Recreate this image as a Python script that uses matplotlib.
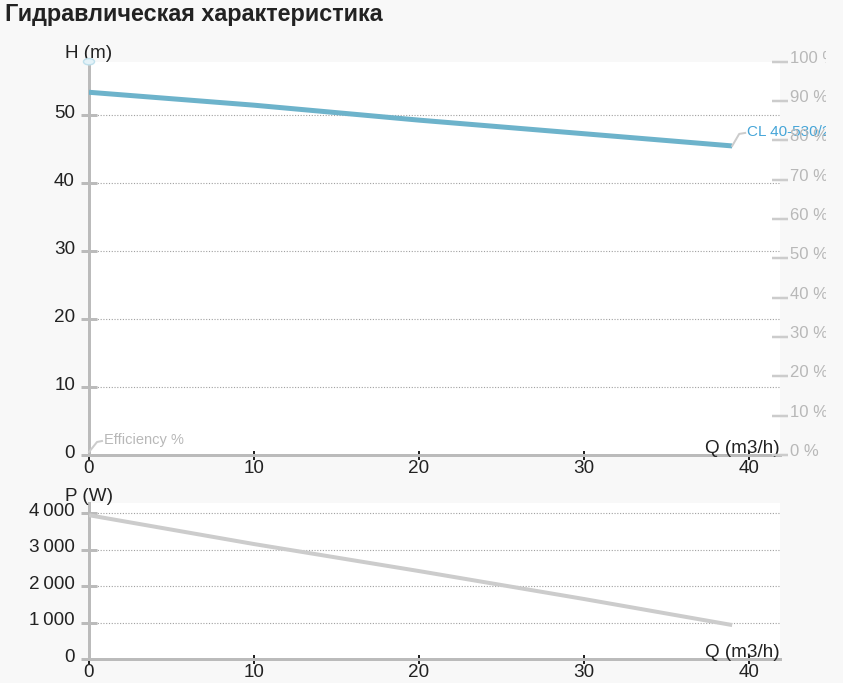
import matplotlib
matplotlib.use("Agg")
import matplotlib.pyplot as plt
from matplotlib.patches import Rectangle, Circle
from matplotlib.lines import Line2D
from matplotlib.transforms import Affine2D, ScaledTranslation

plt.rcParams['font.family'] = ['Liberation Sans', 'DejaVu Sans']

# ---------------- data ----------------
title = "Гидравлическая характеристика"
series_name = "CL 40-530/2"
flow = [0, 10, 20, 30, 39]                  # Q (m3/h)
head = [53.4, 51.5, 49.3, 47.3, 45.5]       # H (m)
power = [3940, 3150, 2410, 1645, 930]       # P (W)
x_ticks = [0, 10, 20, 30, 40]
h_ticks = [0, 10, 20, 30, 40, 50]
eff_ticks = [0, 10, 20, 30, 40, 50, 60, 70, 80, 90, 100]
p_ticks = [0, 1000, 2000, 3000, 4000]
x_max = 41.9
h_max = 57.9
p_max = 4266
eff_max = 100

# ---------------- style ----------------
W, H = 843, 683
DPI = 100
BG = "#f8f8f8"
AXIS = "#bbbbbb"
GRID = "#a0a0a0"
TXT = "#222222"
HEAD_C = "#6db3cb"
POW_C = "#cccccc"
LBL_C = "#45a5d8"
EFF_TXT = "#b8b8b8"
FS = 13.6
PX = 72.0 / DPI  # points per pixel

fig = plt.figure(figsize=(W / DPI, H / DPI), dpi=DPI, facecolor=BG)


def rect(left, top, right, bottom):
    return [left / W, 1 - bottom / H, (right - left) / W, (bottom - top) / H]


def style_axes(ax, yticks, ylim, yfmt):
    ax.set_facecolor("white")
    ax.set_xlim(0, x_max)
    ax.set_ylim(0, ylim)
    ax.set_xticks(x_ticks)
    ax.set_yticks(yticks)
    ax.set_yticklabels([yfmt(v) for v in yticks])
    for s in ("top", "right"):
        ax.spines[s].set_visible(False)
    for s in ("left", "bottom"):
        ax.spines[s].set_color(AXIS)
        ax.spines[s].set_linewidth(3 * PX)
    ax.grid(True, color=GRID, linestyle=(0, (1, 1.5)), linewidth=0.8)
    ax.set_axisbelow(True)
    ax.tick_params(axis="y", direction="inout", length=16 * PX, width=3 * PX,
                   color=AXIS, labelcolor=TXT, labelsize=FS, pad=6 * PX)
    ax.tick_params(axis="x", direction="inout", length=9 * PX, width=2 * PX,
                   color=TXT, labelcolor=TXT, labelsize=FS, pad=0.5 * PX)
    up = ScaledTranslation(0, 4 / DPI, fig.dpi_scale_trans)
    for lab in ax.get_yticklabels():
        lab.set_transform(lab.get_transform() + up)
    for t in ax.yaxis.get_major_ticks():
        t.gridline.set_visible(t.get_loc() != 0)
    for t in ax.xaxis.get_major_ticks():
        t.gridline.set_visible(t.get_loc() != 0)


def connector(ax, x, y, offsets, color):
    px, py = ax.transData.transform((x, y))
    xs = [o[0] for o in offsets]
    ys = [o[1] for o in offsets]
    ln = Line2D(xs, ys, color=color, lw=2 * PX,
                transform=Affine2D().translate(px, py), clip_on=False, zorder=5)
    ax.add_artist(ln)


# ---------------- top: head ----------------
ax = fig.add_axes(rect(89, 61.7, 780, 455))
style_axes(ax, h_ticks, h_max, lambda v: f"{v}")
ax.plot(flow, head, color=HEAD_C, lw=5 * PX, solid_capstyle="butt", zorder=3)

ax2 = ax.twinx()
ax2.set_ylim(0, eff_max)
ax2.set_yticks(eff_ticks)
ax2.set_yticklabels([f"{v} %" for v in eff_ticks])
for s in ax2.spines.values():
    s.set_visible(False)
ax2.tick_params(axis="y", direction="inout", length=16 * PX, width=2.5 * PX,
                color="#cccccc", labelcolor=EFF_TXT, labelsize=12, pad=1.5 * PX)
up5 = ScaledTranslation(0, 5 / DPI, fig.dpi_scale_trans)
for lab in ax2.get_yticklabels():
    lab.set_transform(lab.get_transform() + up5)

ax.annotate("H (m)", xy=(0, 1), xycoords="axes fraction", xytext=(0, 4),
            textcoords="offset pixels", ha="center", va="baseline",
            fontsize=FS, color=TXT)
ax.annotate("Q (m3/h)", xy=(1, 0), xycoords="axes fraction", xytext=(0, 2),
            textcoords="offset pixels", ha="right", va="baseline",
            fontsize=FS, color=TXT)

# series label
connector(ax, flow[-1], head[-1], [(0, 0), (7, 12), (13, 13)], "#cccccc")
ax.annotate(series_name, xy=(flow[-1], head[-1]), xytext=(15, 14),
            textcoords="offset pixels", ha="left", va="center",
            fontsize=11, color=LBL_C, annotation_clip=False, zorder=6)
# efficiency label
connector(ax, 0, 0, [(0, 3), (8, 13), (13, 14)], "#cccccc")
ax.annotate("Efficiency %", xy=(0, 0), xytext=(15, 15),
            textcoords="offset pixels", ha="left", va="center",
            fontsize=10.5, color=EFF_TXT, annotation_clip=False, zorder=6)
# hover marker at top of axis
ax.add_patch(Circle((0, 1), 0.008, transform=ax.transAxes, clip_on=False,
                    facecolor="#e4f2f8", edgecolor="#bfe0ec", lw=1, zorder=6))

# ---------------- bottom: power ----------------
bx = fig.add_axes(rect(89, 503.3, 780, 659))
style_axes(bx, p_ticks, p_max, lambda v: f"{v:,}".replace(",", "\u2009"))
bx.plot(flow, power, color=POW_C, lw=4 * PX, solid_capstyle="butt", zorder=3)
bx.annotate("P (W)", xy=(0, 1), xycoords="axes fraction", xytext=(0, 2),
            textcoords="offset pixels", ha="center", va="baseline",
            fontsize=FS, color=TXT)
bx.annotate("Q (m3/h)", xy=(1, 0), xycoords="axes fraction", xytext=(0, 2),
            textcoords="offset pixels", ha="right", va="baseline",
            fontsize=FS, color=TXT)

# title
fig.text(5 / W, 1 - 14 / H, title, ha="left", va="center", fontsize=16.8,
         fontweight="bold", color=TXT)

# chart clip on the right
fig.patches.append(Rectangle((826 / W, 0), 1, 1, transform=fig.transFigure,
                             facecolor=BG, edgecolor="none", zorder=100))

fig.savefig("out.png", dpi=DPI, facecolor=BG)
